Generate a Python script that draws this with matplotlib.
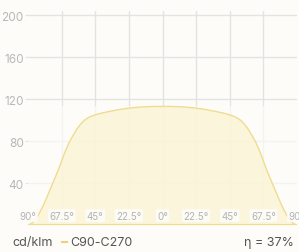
import numpy as np
import matplotlib
matplotlib.use("Agg")
import matplotlib.pyplot as plt
from matplotlib.patches import Rectangle

# Polar intensity curve C90-C270, cd/klm (symmetric)
half_angles = [0, 5, 10, 15, 20, 25, 30, 35, 40, 42.5, 45, 47.5, 50, 52.5, 55, 57.5, 60, 62.5,
               65, 67.5, 70, 72.5, 75, 77.5, 80, 82.5, 85, 87.5, 90]
half_values = [113, 113, 112.8, 112.4, 111.8, 110.9, 109.8, 108.4, 106.9, 106, 105, 103.7, 102, 99.6,
               95.8, 91, 85, 78.5, 70.5, 61, 51.5, 43, 34.5, 26, 18, 11, 5, 1.5, 0]

x_ticks = [-90, -67.5, -45, -22.5, 0, 22.5, 45, 67.5, 90]
x_labels = ["90°", "67.5°", "45°", "22.5°", "0°", "22.5°", "45°", "67.5°", "90°"]
y_ticks = [40, 80, 120, 160, 200]
series_name = "C90-C270"
unit = "cd/klm"
efficiency = "η = 37%"

angles = [-a for a in half_angles[::-1]] + half_angles[1:]
values = half_values[::-1] + half_values[1:]

bg = "#fdfcf9"
line_col = "#efdc8f"
fill_col = "#fbf4d6"
grid_col = "#e3e3e3"

plt.rcParams['font.family'] = ['Inter', 'DejaVu Sans']

fig = plt.figure(figsize=(2.99, 2.53), dpi=100)
fig.set_facecolor(bg)
ax = fig.add_axes([28 / 299, 1 - 226 / 253, 269 / 299, 214 / 253])
ax.set_facecolor(bg)

ax.set_xlim(-90, 90)
ax.set_ylim(0, 204)
ax.set_axisbelow(True)

# grid
for yt in y_ticks:
    ax.axhline(yt, color=grid_col, lw=1, zorder=0.5)
for xt in x_ticks[1:-1]:
    ax.axvline(xt, color=grid_col, lw=1, zorder=0.5)

# lighter lower part of the grid
ax.add_patch(Rectangle((0, 0), 1, max(values) / 204, transform=ax.transAxes,
                       facecolor=bg, alpha=0.65, lw=0, zorder=1))

ax.fill_between(angles, values, 0, color=fill_col, alpha=0.85, lw=0, zorder=2)
ax.plot(angles, values, color=line_col, lw=1.0, zorder=3, solid_joinstyle='round')
ax.axhline(0, color=line_col, lw=1.5, zorder=3)

for s in ax.spines.values():
    s.set_visible(False)

ax.set_xticks([])
ax.set_yticks(y_ticks)
ax.set_yticklabels([str(v) for v in y_ticks])
ax.tick_params(axis='y', length=2, color=grid_col, pad=1, labelsize=8.5, labelcolor="#b8b8b8")

# x labels inside the plot (the right-most one runs off the edge, as in the original)
for xt, lab in zip(x_ticks, x_labels):
    ax.text(xt, 9, lab, ha='center', va='center', fontsize=7, color="#b3b3b3", zorder=4,
            bbox=dict(boxstyle="round,pad=0.15", fc="#fdfcf9", ec="none", alpha=0.9),
            clip_on=False)

# footer legend
fig.text(12 / 299, 1 - 243 / 253, unit, ha='left', va='center', fontsize=9, color="#555555")
fig.add_artist(plt.Line2D([62 / 299, 67 / 299], [1 - 243 / 253] * 2, color="#ecd27a", lw=1.5))
fig.text(70 / 299, 1 - 243 / 253, series_name, ha='left', va='center', fontsize=9, color="#555555")
fig.text(294 / 299, 1 - 243 / 253, efficiency, ha='right', va='center', fontsize=9, color="#555555")

fig.savefig("out.png", dpi=100, facecolor=bg)
